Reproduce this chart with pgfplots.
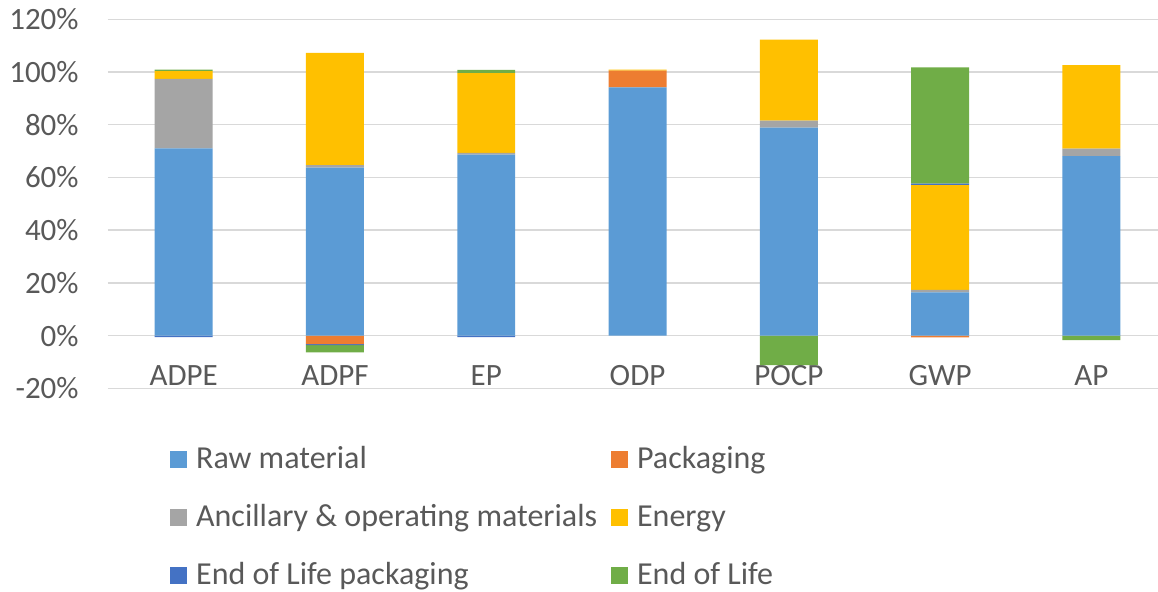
\documentclass[border=0pt]{standalone}
\usepackage{fontspec}
\setmainfont{Carlito}
\usepackage{pgfplots}
\pgfplotsset{compat=1.18}
\definecolor{rawc}{HTML}{5B9BD5}
\definecolor{packc}{HTML}{ED7D31}
\definecolor{ancc}{HTML}{A5A5A5}
\definecolor{enc}{HTML}{FFC000}
\definecolor{eolpc}{HTML}{4472C4}
\definecolor{eolc}{HTML}{70AD47}
\definecolor{gridc}{HTML}{D9D9D9}
\definecolor{txt}{HTML}{595959}
\begin{document}
\begin{tikzpicture}
\begin{axis}[
    scale only axis,
    width=525pt, height=184.5pt,
    ybar stacked,
    stack negative=separate,
    bar width=0.383,
    xmin=-0.5, xmax=6.44,
    ymin=-20, ymax=120,
    ytick={-20,0,...,120},
    xtick=data,
    xticklabels={ADPE,ADPF,EP,ODP,POCP,GWP,AP},
    ymajorgrids,
    grid style={draw=gridc, line width=0.7pt},
    axis line style={draw=none},
    major tick length=0pt,
    tick label style={font=\fontsize{15.5}{18}\selectfont, text=txt},
    /pgf/number format/assume math mode=true,
    yticklabel={\pgfmathprintnumber{\tick}\%},
    yticklabel style={anchor=east, inner sep=0pt, xshift=-14.5pt},
    xticklabel style={anchor=base, inner sep=0pt, yshift=1.6pt},
    legend columns=2,
    legend cell align=left,
    legend style={draw=none, fill=none, at={(0.0531,-0.151)}, anchor=north west,
        font=\fontsize{16}{18}\selectfont, text=txt, row sep=16pt,
        nodes={inner sep=0pt, text height=10pt, text depth=3pt},
        /tikz/every odd column/.append style={column sep=4.5pt},
        /tikz/every even column/.append style={column sep=7pt}},
    legend image code/.code={\fill[#1] (0pt,-3.5pt) rectangle (8.5pt,5pt);},
]
% Raw material
\addplot[fill=rawc, draw=none] coordinates {(0,71.0) (1,63.7) (2,68.7) (3,94.2) (4,78.9) (5,16.4) (6,68.1)};
% Packaging
\addplot[fill=packc, draw=none] coordinates {(0,0) (1,-3.2) (2,0) (3,6.3) (4,0) (5,-0.7) (6,0)};
% Ancillary & operating materials
\addplot[fill=ancc, draw=none] coordinates {(0,26.4) (1,1.0) (2,0.6) (3,0) (4,2.7) (5,0.9) (6,2.8)};
% Energy
\addplot[fill=enc, draw=none] coordinates {(0,2.9) (1,42.6) (2,30.3) (3,0.4) (4,30.7) (5,39.8) (6,31.7)};
% End of Life packaging
\addplot[fill=eolpc, draw=none] coordinates {(0,-0.6) (1,-0.4) (2,-0.6) (3,0) (4,0) (5,0.6) (6,0)};
% End of Life
\addplot[fill=eolc, draw=none] coordinates {(0,0.6) (1,-2.8) (2,1.2) (3,0) (4,-11.2) (5,44.1) (6,-1.7)};
\legend{Raw material, Packaging, Ancillary \& operating materials, Energy, End of Life packaging, End of Life}
\end{axis}
\pgfresetboundingbox
\path (-54pt,-101.35pt) rectangle (525pt,194.15pt);
\end{tikzpicture}
\end{document}
